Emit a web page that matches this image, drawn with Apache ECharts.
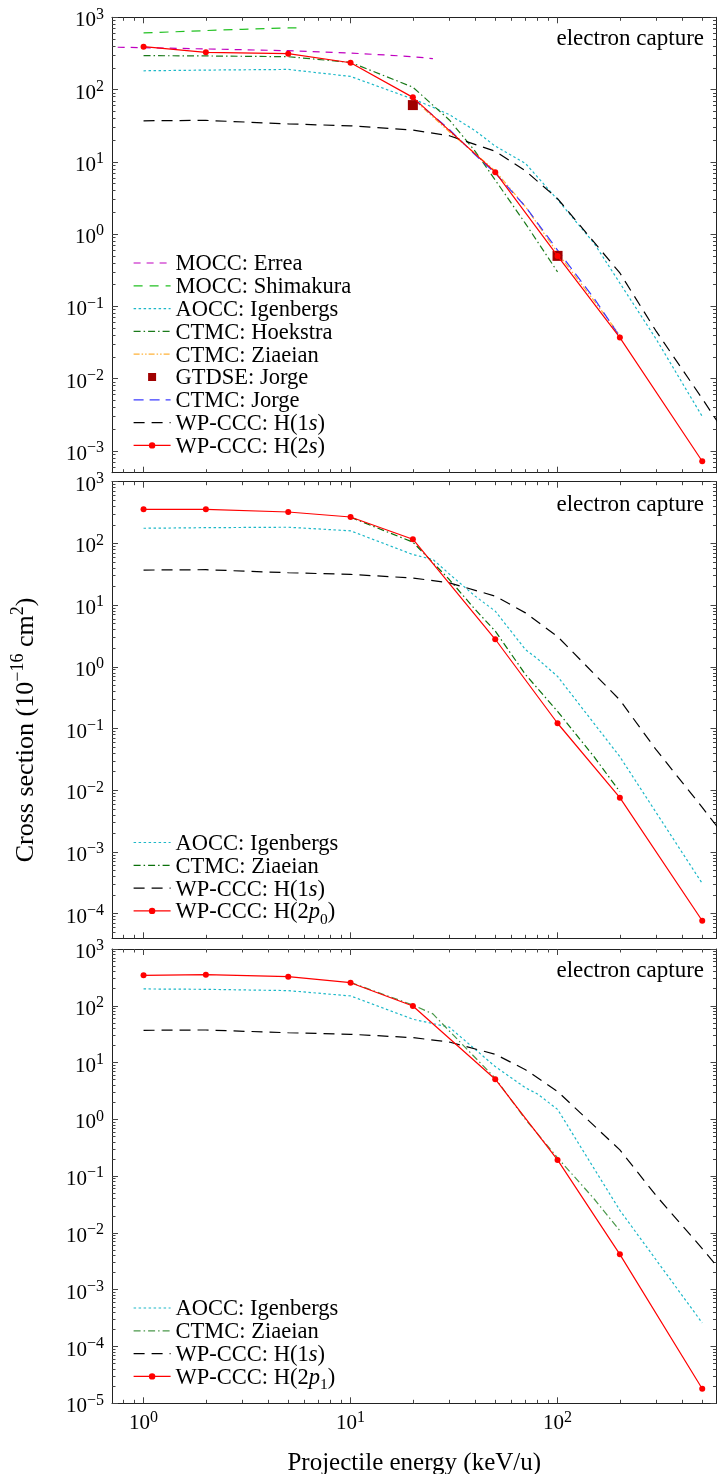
<!DOCTYPE html>
<html><head><meta charset="utf-8">
<script src="https://cdn.jsdelivr.net/npm/echarts@6/dist/echarts.min.js"></script>
<style>html,body{margin:0;padding:0;background:#fff}#c{width:717px;height:1474px}</style>
</head><body><div id="c"></div>
<script>
// ---------------- data (energies in keV/u, cross sections in 1e-16 cm^2) ----------------
const xTickValues = [1, 10, 100];
const eWP = [1, 2, 5, 10, 20, 50, 100, 200, 500];
const eH1s = [1, 2, 5, 10, 20, 30, 50, 70, 100, 200, 300, 500, 600];
const sH1s = [37, 37.5, 33.5, 31.5, 27.5, 23, 14, 7.5, 3.1, 0.29, 0.045, 5.3e-3, 2.4e-3];
// panel 1 : H(2s)
const sH2s = [392, 328, 314, 235, 78, 7.2, 0.5, 0.037, 7.2e-4];
const eErrea = [0.75, 1, 2, 5, 10, 15, 20, 25];
const sErrea = [385, 380, 365, 345, 320, 300, 285, 268];
const eShima = [1, 2, 3, 4, 5, 5.8];
const sShima = [607, 655, 682, 700, 712, 718];
const eIgen2s = [1, 2, 5, 10, 20, 25, 30, 40, 50, 70, 100, 150, 200, 300, 500];
const sIgen2s = [182, 186, 190, 152, 74, 57, 45, 27, 16.5, 9.5, 3.0, 0.75, 0.21, 0.035, 3.0e-3];
const eHoek = [1, 2, 5, 10, 20, 30, 40, 50, 70, 100];
const sHoek = [295, 292, 285, 238, 108, 38, 14, 5.6, 1.4, 0.3];
const eZiae2s = [20, 30, 40, 50, 70, 100, 150, 200];
const sZiae2s = [75, 26, 13, 7.5, 2.4, 0.55, 0.12, 0.04];
const eJorgeCTMC = [20, 30, 40, 50, 70, 100, 150, 200];
const sJorgeCTMC = [76, 28, 12.5, 7.0, 2.4, 0.6, 0.13, 0.038];
const eGTDSE = [20, 100];
const sGTDSE = [61, 0.5];
// panel 2 : H(2p0)
const sH2p0 = [357, 357, 323, 268, 117, 2.8, 0.122, 7.6e-3, 7.7e-5];
const eIgen2p0 = [1, 2, 5, 10, 20, 25, 30, 40, 50, 70, 80, 100, 200, 500];
const sIgen2p0 = [176, 180, 183, 160, 66, 55, 32, 14, 8, 1.9, 1.35, 0.7, 0.035, 3.1e-4];
const eZiae2p0 = [10, 20, 30, 40, 50, 70, 100, 150, 200];
const sZiae2p0 = [265, 105, 26, 8.5, 3.8, 0.75, 0.19, 0.035, 0.0095];
// panel 3 : H(2p1)
const sH2p1 = [344, 353, 325, 255, 99, 5.1, 0.193, 4.2e-3, 1.8e-5];
const eIgen2p1 = [1, 2, 5, 10, 20, 30, 50, 70, 80, 100, 200, 500];
const sIgen2p1 = [198, 195, 185, 149, 58, 42, 8.5, 3.6, 2.8, 1.5, 0.025, 2.6e-4];
const eZiae2p1 = [10, 20, 25, 30, 50, 70, 100, 150, 200];
const sZiae2p1 = [258, 103, 72, 36, 5.3, 1.0, 0.21, 0.04, 0.011];

// axis ranges (data units)
const xRange = [0.704, 586];
const yRanges = [[5e-4, 1e3], [4e-5, 1e3], [1e-5, 1e3]];

// ---------------- helpers ----------------
const FONT = '"Liberation Serif", "Times New Roman", serif';
const L = Math.log10;
const pts = (E, S) => E.map((e, i) => [L(e), L(S[i])]);

const TICK_RICH = {
  b: {fontFamily: FONT, fontSize: 21, color: '#000', lineHeight: 22, padding: [4, 0, 0, 0], verticalAlign: 'top'},
  s: {fontFamily: FONT, fontSize: 16, color: '#000', lineHeight: 15, verticalAlign: 'top'}
};
const LEG_RICH = {
  n: {fontFamily: FONT, fontSize: 22.5, color: '#000', lineHeight: 20, verticalAlign: 'top'},
  i: {fontFamily: FONT, fontSize: 22.5, color: '#000', lineHeight: 20, fontStyle: 'italic', verticalAlign: 'top'},
  sub: {fontFamily: FONT, fontSize: 15.5, color: '#000', lineHeight: 14, padding: [11, 0, 0, 0], verticalAlign: 'top'}
};
const YL_RICH = {
  nb: {fontFamily: FONT, fontSize: 26, color: '#000', lineHeight: 26, padding: [4, 0, 0, 0], verticalAlign: 'top'},
  sup: {fontFamily: FONT, fontSize: 18, color: '#000', lineHeight: 17, verticalAlign: 'top'}
};
const powLabel = v => { const k = Math.round(v); return '{b|10}{s|' + (k < 0 ? '\u2212' + (-k) : k) + '}'; };
function majors(lo, hi) { const o = []; for (let d = Math.ceil(L(lo) - 1e-9); d <= Math.floor(L(hi) + 1e-9); d++) o.push(d); return o; }
function minors(lo, hi) {
  const a = L(lo), b = L(hi), o = [];
  for (let d = Math.floor(a); d <= Math.ceil(b); d++) for (let m = 2; m <= 9; m++) { const v = d + L(m); if (v > a + 1e-6 && v < b - 1e-6) o.push(v); }
  return o;
}
const AX_LINE = {show: true, onZero: false, lineStyle: {color: '#222', width: 1}};
const TICK_LS = {color: '#444', width: 1};

const grids = [
  {left: 112, width: 604.5, top: 17.3, height: 455.4, outerBoundsMode: 'none'},
  {left: 112, width: 604.5, top: 481.7, height: 456.6, outerBoundsMode: 'none'},
  {left: 112, width: 604.5, top: 949, height: 454.3, outerBoundsMode: 'none'}
];

const xAxis = [], yAxis = [];
grids.forEach((g, gi) => {
  const xb = {gridIndex: gi, type: 'value', min: L(xRange[0]), max: L(xRange[1]), splitLine: {show: false}};
  const xMaj = xTickValues.map(L), xMin = minors(xRange[0], xRange[1]);
  const showX = gi === 2;
  const major = Object.assign({}, xb, {position: 'bottom', axisLine: AX_LINE,
    axisTick: {show: true, inside: true, length: 6, customValues: xMaj, lineStyle: TICK_LS},
    axisLabel: {show: showX, customValues: xMaj, formatter: powLabel, rich: TICK_RICH, margin: 6}});
  if (showX) Object.assign(major, {name: 'Projectile energy (keV/u)', nameLocation: 'middle', nameGap: 48,
    nameTextStyle: {fontFamily: FONT, fontSize: 25, color: '#000'}});
  xAxis.push(major);
  xAxis.push(Object.assign({}, xb, {position: 'bottom', axisLine: {show: false, onZero: false},
    axisTick: {show: true, inside: true, length: 3.5, customValues: xMin, lineStyle: TICK_LS}, axisLabel: {show: false}}));
  xAxis.push(Object.assign({}, xb, {position: 'top', axisLine: AX_LINE,
    axisTick: {show: true, inside: true, length: 6, customValues: xMaj, lineStyle: TICK_LS}, axisLabel: {show: false}}));
  xAxis.push(Object.assign({}, xb, {position: 'top', axisLine: {show: false, onZero: false},
    axisTick: {show: true, inside: true, length: 3.5, customValues: xMin, lineStyle: TICK_LS}, axisLabel: {show: false}}));

  const yr = yRanges[gi];
  const yb = {gridIndex: gi, type: 'value', min: L(yr[0]), max: L(yr[1]), splitLine: {show: false}};
  const yMaj = majors(yr[0], yr[1]), yMin = minors(yr[0], yr[1]);
  yAxis.push(Object.assign({}, yb, {position: 'left', axisLine: AX_LINE,
    axisTick: {show: true, inside: true, length: 6, customValues: yMaj, lineStyle: TICK_LS},
    axisLabel: {show: true, customValues: yMaj, formatter: powLabel, rich: TICK_RICH, margin: 8}}));
  yAxis.push(Object.assign({}, yb, {position: 'left', axisLine: {show: false, onZero: false},
    axisTick: {show: true, inside: true, length: 3.5, customValues: yMin, lineStyle: TICK_LS}, axisLabel: {show: false}}));
  yAxis.push(Object.assign({}, yb, {position: 'right', axisLine: AX_LINE,
    axisTick: {show: true, inside: true, length: 6, customValues: yMaj, lineStyle: TICK_LS}, axisLabel: {show: false}}));
  yAxis.push(Object.assign({}, yb, {position: 'right', axisLine: {show: false, onZero: false},
    axisTick: {show: true, inside: true, length: 3.5, customValues: yMin, lineStyle: TICK_LS}, axisLabel: {show: false}}));
});

// ---------------- series ----------------
const LABELS = {};
const series = [];
const legendData = [[], [], []];
function addLine(gi, key, label, E, S, color, dash, opts) {
  opts = opts || {};
  const name = 'p' + gi + '|' + key;
  LABELS[name] = label;
  series.push({
    type: 'line', name, xAxisIndex: gi * 4, yAxisIndex: gi * 4, data: pts(E, S),
    symbol: opts.marker ? 'circle' : 'none', symbolSize: 6, showSymbol: !!opts.marker,
    lineStyle: {color, width: 1.2, type: dash || 'solid'}, itemStyle: {color, opacity: 1},
    clip: true, silent: true, z: opts.z || 2
  });
  legendData[gi].push(opts.marker ? {name} : {name, itemStyle: {opacity: 0}});
}
function addScatter(gi, key, label, E, S, color) {
  const name = 'p' + gi + '|' + key;
  LABELS[name] = label;
  series.push({type: 'scatter', name, xAxisIndex: gi * 4, yAxisIndex: gi * 4, data: pts(E, S),
    symbol: 'rect', symbolSize: 10, itemStyle: {color, opacity: 1}, silent: true, z: 2});
  legendData[gi].push({name, icon: 'path://M0 0H10V10H0Z', itemStyle: {color, opacity: 1}});
}
const C = {errea: '#c000c0', shima: '#22c022', igen: '#1cb8c8', hoek: '#1a7a1a', ziaeO: '#ffb238',
  gtdse: '#a00000', jorge: '#3c3cff', h1s: '#000000', red: '#ff0000', ziaeG2: '#0a700a', ziaeG3: '#4a984a'};
const D = {dash: [7, 6], dashS: [9, 7], dot: [2.5, 2.5], dashdot: [7, 3, 1.5, 3], dashdotdot: [6, 2, 1.5, 2, 1.5, 2],
  long: [11, 7], blue: [10, 6]};

// panel 1
addLine(0, 'errea', '{n|MOCC: Errea}', eErrea, sErrea, C.errea, D.dash);
addLine(0, 'shima', '{n|MOCC: Shimakura}', eShima, sShima, C.shima, D.dashS);
addLine(0, 'igen', '{n|AOCC: Igenbergs}', eIgen2s, sIgen2s, C.igen, D.dot);
addLine(0, 'hoek', '{n|CTMC: Hoekstra}', eHoek, sHoek, C.hoek, D.dashdot);
addLine(0, 'ziae', '{n|CTMC: Ziaeian}', eZiae2s, sZiae2s, C.ziaeO, D.dashdotdot);
addScatter(0, 'gtdse', '{n|GTDSE: Jorge}', eGTDSE, sGTDSE, C.gtdse);
addLine(0, 'jorge', '{n|CTMC: Jorge}', eJorgeCTMC, sJorgeCTMC, C.jorge, D.blue);
addLine(0, 'h1s', '{n|WP-CCC: H(1}{i|s}{n|)}', eH1s, sH1s, C.h1s, D.long);
addLine(0, 'h2', '{n|WP-CCC: H(2}{i|s}{n|)}', eWP, sH2s, C.red, 'solid', {marker: true, z: 5});
// panel 2
addLine(1, 'igen', '{n|AOCC: Igenbergs}', eIgen2p0, sIgen2p0, C.igen, D.dot);
addLine(1, 'ziae', '{n|CTMC: Ziaeian}', eZiae2p0, sZiae2p0, C.ziaeG2, D.dashdot);
addLine(1, 'h1s', '{n|WP-CCC: H(1}{i|s}{n|)}', eH1s, sH1s, C.h1s, D.long);
addLine(1, 'h2', '{n|WP-CCC: H(2}{i|p}{sub|0}{n|)}', eWP, sH2p0, C.red, 'solid', {marker: true, z: 5});
// panel 3
addLine(2, 'igen', '{n|AOCC: Igenbergs}', eIgen2p1, sIgen2p1, C.igen, D.dot);
addLine(2, 'ziae', '{n|CTMC: Ziaeian}', eZiae2p1, sZiae2p1, C.ziaeG3, D.dashdot);
addLine(2, 'h1s', '{n|WP-CCC: H(1}{i|s}{n|)}', eH1s, sH1s, C.h1s, D.long);
addLine(2, 'h2', '{n|WP-CCC: H(2}{i|p}{sub|1}{n|)}', eWP, sH2p1, C.red, 'solid', {marker: true, z: 5});

const legendTops = [253, 832.5, 1298];
const legend = legendData.map((data, gi) => ({
  data, orient: 'vertical', left: 133, top: legendTops[gi], itemWidth: 37, itemHeight: 8, itemGap: -0.2,
  selectedMode: false, padding: 0, align: 'left', symbolKeepAspect: true,
  lineStyle: {width: 'inherit'},
  formatter: n => LABELS[n],
  textStyle: {fontFamily: FONT, fontSize: 22.5, color: '#000', rich: LEG_RICH}
}));

const capY = [39, 505, 971];
const graphic = capY.map(y => ({type: 'text', x: 704, y, silent: true,
  style: {text: 'electron capture', fontFamily: FONT, fontSize: 23, fill: '#000', align: 'right', verticalAlign: 'middle'}}));
graphic.push({type: 'text', x: 22, y: 730, rotation: Math.PI / 2, silent: true,
  style: {text: '{nb|Cross section (10}{sup|\u221216}{nb| cm}{sup|2}{nb|)}', rich: YL_RICH, align: 'center', verticalAlign: 'middle'}});

const chart = echarts.init(document.getElementById('c'), null, {renderer: 'canvas'});
chart.setOption({animation: false, backgroundColor: '#fff', grid: grids, xAxis, yAxis, series, legend, graphic});
</script></body></html>
